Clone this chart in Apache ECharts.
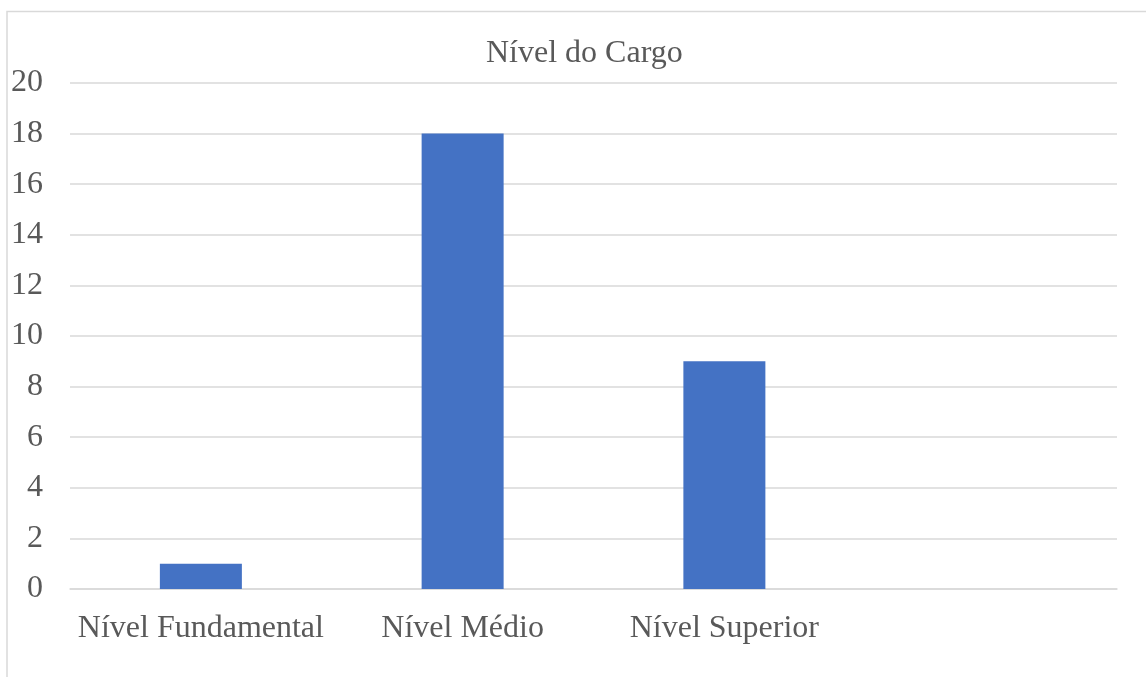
<!DOCTYPE html>
<html>
<head>
<meta charset="utf-8">
<script src="https://cdn.jsdelivr.net/npm/echarts@6/dist/echarts.min.js"></script>
<style>html,body{margin:0;padding:0;background:#fff;}#c{width:1146px;height:677px;}</style>
</head>
<body>
<div id="c"></div>
<script>
const titleText = 'Nível do Cargo';
const categories = ['Nível Fundamental', 'Nível Médio', 'Nível Superior', ''];
const values = [1, 18, 9, null];
const yTicks = { min: 0, max: 20, interval: 2 };

const FONT = "'Liberation Serif', 'Times New Roman', serif";
const chart = echarts.init(document.getElementById('c'), null, { renderer: 'canvas' });
chart.setOption({
  backgroundColor: '#ffffff',
  animation: false,
  title: {
    text: titleText,
    left: 486,
    top: 38,
    padding: 0,
    textStyle: { fontFamily: FONT, fontSize: 32, fontWeight: 'normal', color: '#595959' }
  },
  graphic: [{
    type: 'rect',
    shape: { x: 7, y: 11.5, width: 1400, height: 900 },
    style: { fill: 'none', stroke: '#d9d9d9', lineWidth: 1.5 },
    silent: true
  }],
  grid: { left: 70, right: 29, top: 83, bottom: 88, containLabel: false },
  xAxis: {
    type: 'category',
    data: categories,
    axisLine: { show: true, lineStyle: { color: '#d9d9d9', width: 1.5 } },
    axisTick: { show: false },
    axisLabel: { fontFamily: FONT, fontSize: 32, color: '#595959', margin: 24, interval: 0 }
  },
  yAxis: {
    type: 'value',
    min: yTicks.min, max: yTicks.max, interval: yTicks.interval,
    axisLine: { show: false },
    axisTick: { show: false },
    splitLine: { lineStyle: { color: '#d9d9d9', width: 1.5 } },
    axisLabel: { fontFamily: FONT, fontSize: 32, color: '#595959', margin: 27, padding: [4, 0, 0, 0] }
  },
  series: [{
    type: 'bar',
    data: values,
    barWidth: 82,
    itemStyle: { color: '#4472C4' }
  }]
});
</script>
</body>
</html>
